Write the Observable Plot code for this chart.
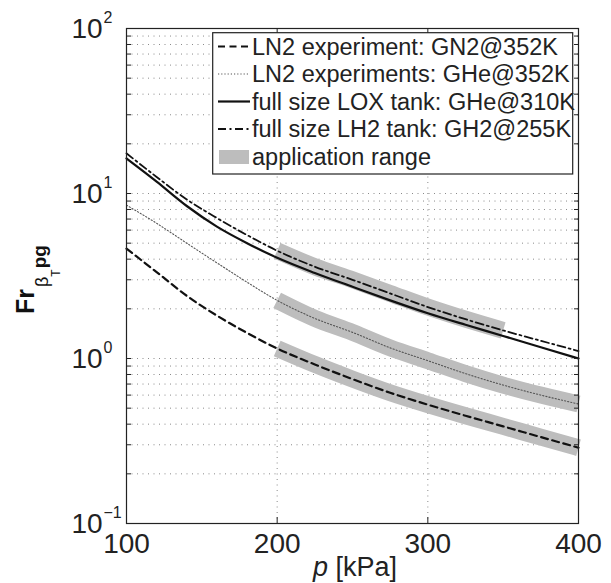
<!DOCTYPE html>
<html>
<head>
<meta charset="utf-8">
<script src="https://cdn.jsdelivr.net/npm/d3@7"></script>
<script src="https://cdn.jsdelivr.net/npm/@observablehq/plot@0.6"></script>
<style>
  html, body { margin: 0; padding: 0; background: #fff; }
  #wrap { position: relative; width: 611px; height: 583px; }
  #wrap svg { position: absolute; left: 0; top: 0; }
</style>
</head>
<body>
<div id="wrap"></div>
<script>
// ---- data ----
const pressure    = [100, 120, 140, 160, 180, 200, 225, 250, 275, 300, 325, 350, 375, 400];
const gn2_352     = [4.63, 3.34, 2.40, 1.82, 1.43, 1.15, 0.92, 0.75, 0.62, 0.525, 0.45, 0.388, 0.334, 0.288];
const ghe_352     = [8.5, 6.6, 5.0, 3.8, 2.9, 2.25, 1.75, 1.44, 1.16, 0.97, 0.81, 0.69, 0.60, 0.53];
const lox_ghe_310 = [16.3, 11.8, 8.4, 6.3, 5.0, 4.08, 3.3, 2.72, 2.25, 1.88, 1.60, 1.37, 1.17, 1.0];
const lh2_gh2_255 = [17.5, 12.6, 9.2, 7.1, 5.6, 4.5, 3.6, 3.0, 2.48, 2.05, 1.73, 1.48, 1.28, 1.11];

const seriesNames = [
  "LN2 experiment: GN2@352K",
  "LN2 experiments: GHe@352K",
  "full size LOX tank: GHe@310K",
  "full size LH2 tank: GH2@255K",
  "application range"
];
const bandRanges = [[200, 400], [200, 400], null, [200, 350]]; // per series

const xTicks = [100, 200, 300, 400];
const yTicks = [0.1, 1, 10, 100];
const yExponents = ["\u22121", "0", "1", "2"];
const yMinor = [0.2,0.3,0.4,0.5,0.6,0.7,0.8,0.9, 2,3,4,5,6,7,8,9, 20,30,40,50,60,70,80,90];
const yGridAll = [...yMinor, 1, 10];

// ---- build tables ----
const allValues = [gn2_352, ghe_352, lox_ghe_310, lh2_gh2_255];
const rows = allValues.map((vals, i) => pressure.map((p, j) => ({p, v: vals[j], s: seriesNames[i]})));
const bands = rows.map((r, i) => bandRanges[i] ? r.filter(d => d.p >= bandRanges[i][0] && d.p <= bandRanges[i][1]) : []);

const styles = [
  {stroke: "#111", strokeWidth: 2.2, strokeDasharray: "7,4.5"},
  {stroke: "#555", strokeWidth: 1.1, strokeDasharray: "1.2,2"},
  {stroke: "#111", strokeWidth: 2.2},
  {stroke: "#111", strokeWidth: 1.8, strokeDasharray: "8,3.5,2,3.5"}
];
const bandColor = "#bdbdbd";
const font = "'Liberation Sans', Arial, Helvetica, sans-serif";

const chart = Plot.plot({
  width: 611,
  height: 583,
  marginLeft: 126,
  marginRight: 33,
  marginTop: 28,
  marginBottom: 60,
  style: {fontFamily: font, color: "#222", background: "#fff", overflow: "visible"},
  x: {type: "linear", domain: [100, 400], label: null, axis: null},
  y: {type: "log", domain: [0.1, 100], label: null, axis: null},
  marks: [
    Plot.ruleY(yGridAll, {stroke: "#8a8a8a", strokeWidth: 1, strokeDasharray: "1,4.5"}),
    Plot.ruleX([200, 300], {stroke: "#8a8a8a", strokeWidth: 1, strokeDasharray: "1,4.5"}),
    ...bands.map(b => Plot.line(b, {x: "p", y: "v", stroke: bandColor, strokeWidth: 17, strokeLinecap: "butt", curve: "monotone-x"})),
    ...rows.map((r, i) => Plot.line(r, {x: "p", y: "v", curve: "monotone-x", ...styles[i]})),
    Plot.frame({stroke: "#222", strokeWidth: 1.2}),
    // inward ticks
    Plot.axisY(yGridAll.concat([0.1, 100]), {anchor: "left", tickSize: 5, dx: 5, tickFormat: () => "", label: null, stroke: "#222"}),
    Plot.axisY(yGridAll.concat([0.1, 100]), {anchor: "right", tickSize: 5, dx: -5, tickFormat: () => "", label: null, stroke: "#222"}),
    Plot.axisX([200, 300], {anchor: "top", tickSize: 6, dy: 6, tickFormat: () => "", label: null, stroke: "#222"}),
    Plot.axisX([200, 300], {anchor: "bottom", tickSize: 6, dy: -6, tickFormat: () => "", label: null, stroke: "#222"}),
    // x tick labels
    Plot.axisX(xTicks, {anchor: "bottom", tickSize: 0, tickPadding: 10, fontSize: 28, label: null, fill: "#222"}),
    // y tick labels: "10" with superscript exponent
    Plot.text(yTicks, {y: d => d, frameAnchor: "left", dx: -55, text: () => "10", textAnchor: "start", lineAnchor: "middle", fontSize: 28, fill: "#222", dy: 1}),
    Plot.text(yTicks, {y: d => d, frameAnchor: "left", dx: -23, dy: -11, text: (d, i) => yExponents[i], textAnchor: "start", lineAnchor: "middle", fontSize: 16, fill: "#222"})
  ]
});

const wrap = document.getElementById("wrap");
wrap.appendChild(chart);

const svg = d3.select(chart);

// x-axis label
const xl = svg.append("text")
  .attr("x", 355).attr("y", 576)
  .attr("text-anchor", "middle")
  .attr("font-size", 27).attr("font-family", font).attr("fill", "#222");
xl.append("tspan").attr("font-style", "italic").text("p");
xl.append("tspan").text(" [kPa]");

// y-axis label: Fr_{β_T pg}
const yl = svg.append("text")
  .attr("transform", "translate(34,314) rotate(-90)")
  .attr("text-anchor", "start")
  .attr("font-family", font).attr("fill", "#111");
yl.append("tspan").attr("font-weight", "bold").attr("font-size", 25).text("Fr");
yl.append("tspan").attr("font-size", 18).attr("dx", 2).attr("dy", 14).text("\u03B2");
yl.append("tspan").attr("font-size", 12).attr("dx", 0).attr("dy", 12).text("T");
yl.append("tspan").attr("font-size", 19).attr("font-weight", "bold").attr("dx", 1).attr("dy", -14).text("pg");

// legend (overlay svg)
const leg = d3.select(wrap).append("svg")
  .attr("width", 611).attr("height", 583)
  .style("pointer-events", "none");
leg.append("rect")
  .attr("x", 212.7).attr("y", 32.7).attr("width", 360).attr("height", 141.3)
  .attr("fill", "#fff").attr("stroke", "#222").attr("stroke-width", 1.2);
const rowY = [46.5, 74, 101.5, 129, 157];
seriesNames.forEach((name, i) => {
  const y = rowY[i];
  if (i < 4) {
    const s = styles[i];
    leg.append("line").attr("x1", 218).attr("x2", 250).attr("y1", y).attr("y2", y)
      .attr("stroke", s.stroke).attr("stroke-width", s.strokeWidth)
      .attr("stroke-dasharray", s.strokeDasharray || null);
  } else {
    leg.append("rect").attr("x", 219).attr("y", y - 7).attr("width", 30).attr("height", 14)
      .attr("fill", bandColor);
  }
  leg.append("text").attr("x", 252).attr("y", y).attr("dy", "0.36em")
    .attr("font-size", 23.5).attr("font-family", font).attr("fill", "#222")
    .text(name);
});
</script>
</body>
</html>
